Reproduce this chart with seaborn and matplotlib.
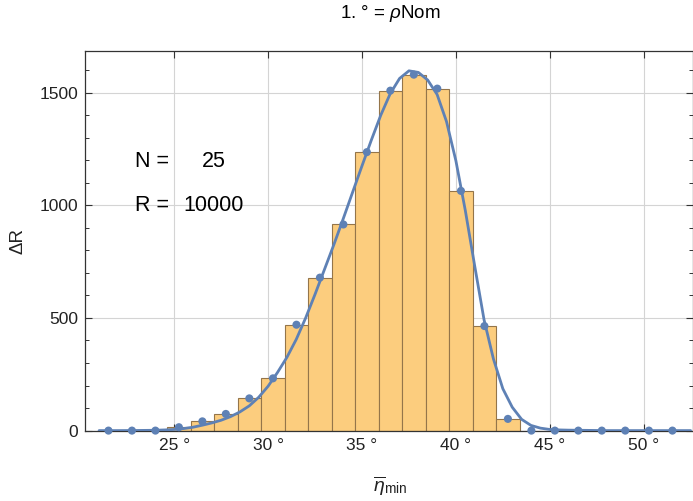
import numpy as np
import pandas as pd
import matplotlib
matplotlib.use("Agg")
import matplotlib.pyplot as plt
import seaborn as sns
from matplotlib.ticker import MultipleLocator, FixedLocator

# ---- data ----
bin_centers = [21.50, 22.75, 24.00, 25.25, 26.50, 27.75, 29.00, 30.26, 31.51,
               32.76, 34.01, 35.26, 36.51, 37.76, 39.01, 40.27, 41.52, 42.77,
               44.02, 45.27, 46.52, 47.77, 49.02, 50.28, 51.53]
bin_counts = [0, 0, 0, 15, 41, 74, 143, 232, 470, 679, 915, 1236, 1509, 1580,
              1518, 1064, 464, 52, 0, 0, 0, 0, 0, 0, 0]
bin_width = 1.2513

fit_x = [21.0, 22.0, 23.0, 24.0, 24.5, 25.0, 25.5, 26.0, 26.5, 27.0, 27.5, 28.0,
         28.5, 29.0, 29.5, 30.0, 30.5, 31.0, 31.5, 32.0, 32.5, 33.0, 33.5, 34.0,
         34.5, 35.0, 35.5, 36.0, 36.5, 37.0, 37.5, 38.0, 38.5, 39.0, 39.5, 40.0,
         40.5, 41.0, 41.5, 42.0, 42.5, 43.0, 43.5, 44.0, 44.5, 45.0, 45.5, 46.0,
         47.0, 48.0, 50.0, 52.5]
fit_y = [0, 0, 0.5, 1.5, 3, 5, 9, 15, 24, 34, 46, 62,
         83, 110, 148, 197, 258, 325, 405, 500, 605, 715, 825, 940,
         1058, 1175, 1290, 1400, 1495, 1563, 1597, 1590, 1556, 1492, 1372, 1198,
         978, 732, 492, 318, 186, 104, 50, 23, 11, 5, 3, 2,
         1, 0, 0, 0]

x_ticks = [25, 30, 35, 40, 45, 50]
x_tick_labels = ["25 °", "30 °", "35 °", "40 °", "45 °", "50 °"]
y_ticks = [0, 500, 1000, 1500]

title_text = "1. ° = $\\mathit{\\rho}$Nom"
x_label = "$\\overline{\\mathit{\\eta}}_{\\mathrm{min}}$"
y_label = "ΔR"
info_labels = ["N =", "R ="]
info_values = ["25", "10000"]

# ---- style ----
sns.set_theme(style="white")
plt.rcParams["font.family"] = ["Liberation Sans", "DejaVu Sans"]
plt.rcParams["mathtext.fontset"] = "custom"
plt.rcParams["mathtext.rm"] = "Liberation Sans"
plt.rcParams["mathtext.it"] = "Liberation Sans:italic"
plt.rcParams["mathtext.bf"] = "Liberation Sans:bold"

bar_face = "#FCCD7E"
bar_edge = "#94754A"
blue = "#5E81B5"

fig = plt.figure(figsize=(6.93, 5.01), dpi=100)
ax = fig.add_axes([85 / 693, 1 - 430.6 / 501, 607.5 / 693, (430.6 - 51) / 501])

df = pd.DataFrame({"center": bin_centers, "count": bin_counts})
edges = [c - bin_width / 2 for c in bin_centers] + [bin_centers[-1] + bin_width / 2]

ax.set_axisbelow(True)
ax.grid(True, color="#d4d4d4", linewidth=0.8)

sns.histplot(data=df, x="center", weights="count", bins=edges, ax=ax,
             color=bar_face, alpha=1.0, edgecolor=bar_edge, linewidth=0.8,
             zorder=2)
sns.lineplot(x=fit_x, y=fit_y, ax=ax, color=blue, linewidth=2.0, zorder=3)
sns.scatterplot(data=df, x="center", y="count", ax=ax, color=blue, s=34,
                edgecolor="none", zorder=4, clip_on=False)

ax.set_xlim(20.25, 52.6)
ax.set_ylim(0, 1685)
ax.xaxis.set_major_locator(FixedLocator(x_ticks))
ax.set_xticklabels(x_tick_labels)
ax.yaxis.set_major_locator(FixedLocator(y_ticks))
ax.yaxis.set_minor_locator(MultipleLocator(100))
ax.tick_params(axis="both", which="both", direction="in", top=True, right=True,
               bottom=True, left=True, color="#333333", labelsize=12.5,
               labelcolor="#222222")
ax.tick_params(axis="both", which="major", length=5, width=0.8)
ax.tick_params(axis="y", which="minor", length=3, width=0.7)
ax.tick_params(axis="x", which="major", pad=5)
ax.tick_params(axis="y", which="major", pad=5)
for s in ax.spines.values():
    s.set_color("#333333")
    s.set_linewidth(0.9)
ax.set_xlabel("")
ax.set_ylabel("")

# annotations
fs_info = 15.5
ax.text(22.91, 1193, info_labels[0], fontsize=fs_info, ha="left", va="center", color="black")
ax.text(27.11, 1193, info_values[0], fontsize=fs_info, ha="center", va="center", color="black")
ax.text(22.91, 1000, info_labels[1], fontsize=fs_info, ha="left", va="center", color="black")
ax.text(27.11, 1000, info_values[1], fontsize=fs_info, ha="center", va="center", color="black")

fig.text(390 / 693, 1 - 14 / 501, title_text, ha="center", va="center", fontsize=13.5, color="black")
fig.text(390 / 693, 1 - 486 / 501, x_label, ha="center", va="center", fontsize=14, color="#222222")
fig.text(18 / 693, 1 - 240.7 / 501, y_label, ha="center", va="center", rotation=90, fontsize=13.5, color="#222222")

fig.savefig("out.png", dpi=100)
